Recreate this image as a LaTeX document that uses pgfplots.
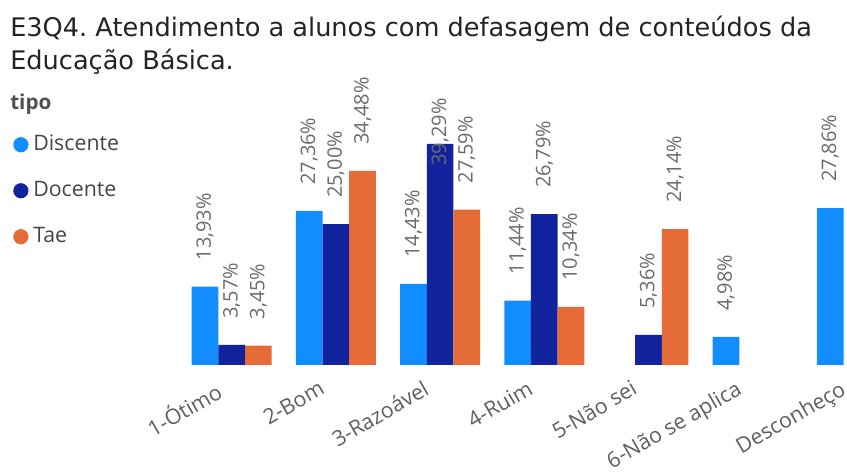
\documentclass[border=0pt]{standalone}
\usepackage{fontspec}
\setmainfont{Open Sans}
\newfontfamily\titlefont{DejaVu Sans}
\usepackage{pgfplots}
\pgfplotsset{compat=1.18}
\definecolor{disc}{HTML}{118DFF}
\definecolor{doc}{HTML}{12239E}
\definecolor{tae}{HTML}{E66C37}
\definecolor{titlec}{HTML}{252423}
\definecolor{labc}{HTML}{605E5C}
\definecolor{datac}{HTML}{6B6B6B}
\frenchspacing
\begin{document}
\begin{tikzpicture}
\useasboundingbox (0,0) rectangle (635.25pt,355.5pt);
\node[anchor=base west, inner sep=0pt, text=titlec, font=\titlefont\fontsize{19.2}{24}\selectfont] at (7.5pt,327.75pt) {E3Q4. Atendimento a alunos com defasagem de conteúdos da};
\node[anchor=base west, inner sep=0pt, text=titlec, font=\titlefont\fontsize{19.2}{24}\selectfont] at (7.5pt,303pt) {Educação Básica.};
\node[anchor=base west, inner sep=0pt, text=titlec!80, font=\bfseries\fontsize{15.5}{18}\selectfont] at (7.5pt,273pt) {tipo};
\begin{axis}[
  at={(134.7pt,81.75pt)}, anchor=south west,
  scale only axis, width=547.05pt, height=168.9pt,
  xmin=-0.5, xmax=6.5, ymin=0, ymax=40,
  ybar=0pt, bar width=20pt,
  clip=false,
  hide y axis,
  x axis line style={draw=none},
  xtick={0,...,6},
  xticklabels={1-Ótimo,2-Bom,3-Razoável,4-Ruim,5-Não sei,6-Não se aplica,Desconheço},
  xtick style={draw=none},
  x tick label style={xshift=-13pt, yshift=-5pt, rotate=30, anchor=north east, font=\fontsize{16}{19}\selectfont, text=labc, inner sep=1pt},
  /pgf/number format/assume math mode=true,
  visualization depends on={rawy \as \rawy},
  nodes near coords={\pgfmathprintnumber[fixed,fixed zerofill,precision=2,use comma,assume math mode=true]{\pgfplotspointmeta}\%},
  nodes near coords style={rotate=90, anchor=west, inner sep=0pt, font=\fontsize{15}{18}\selectfont, text=datac, xshift={\rawy>38 ? -16.5 : 19.5}},
  legend style={at={(axis description cs:-0.2284,1.0266)}, anchor=north west, draw=none, fill=none, inner sep=0pt, row sep=18.5pt, font=\fontsize{16}{19}\selectfont, text=titlec!85, nodes={inner sep=0pt, text height=12pt, text depth=4pt}},
  legend cell align=left,
]
\addplot[fill=disc, draw=none, legend image code/.code={\fill[disc] (5.7pt,0pt) circle (5.7pt); \path (0pt,0pt) -- (15pt,0pt);}]
  coordinates {(0,13.93) (1,27.36) (2,14.43) (3,11.44) (5,4.98) (6,27.86)};
\addlegendentry{Discente}
\addplot[fill=doc, draw=none, legend image code/.code={\fill[doc] (5.7pt,0pt) circle (5.7pt); \path (0pt,0pt) -- (15pt,0pt);}]
  coordinates {(0,3.57) (1,25.00) (2,39.29) (3,26.79) (4,5.36)};
\addlegendentry{Docente}
\addplot[fill=tae, draw=none, legend image code/.code={\fill[tae] (5.7pt,0pt) circle (5.7pt); \path (0pt,0pt) -- (15pt,0pt);}]
  coordinates {(0,3.45) (1,34.48) (2,27.59) (3,10.34) (4,24.14)};
\addlegendentry{Tae}
\end{axis}
\end{tikzpicture}
\end{document}
